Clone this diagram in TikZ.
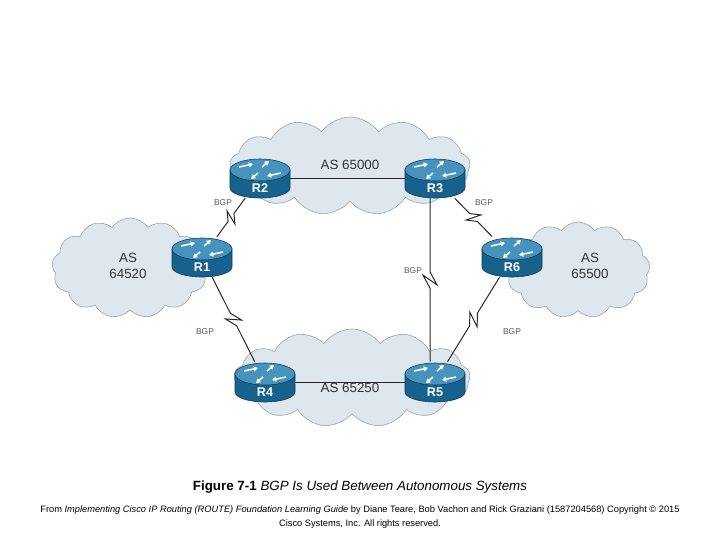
\documentclass[tikz,border=0pt]{standalone}
\usepackage{fontspec}
\setmainfont{Liberation Sans}
\usetikzlibrary{shapes.symbols,calc,arrows.meta}
\definecolor{CloudFill}{RGB}{222,230,238}
\definecolor{CloudLine}{RGB}{150,160,172}
\definecolor{RouterBody}{RGB}{22,98,140}
\definecolor{RouterTop}{RGB}{70,148,190}
\tikzset{
  as cloud/.style={shape=cloud, cloud puffs=13, cloud puff arc=110, aspect=2, draw=CloudLine, fill=CloudFill, inner sep=0pt},
  router/.style={shape=rectangle, minimum width=1.5cm, minimum height=1cm, inner sep=0pt},
  rname/.style={text=white, font=\bfseries\fontsize{9}{9}\selectfont},
  bgp/.style={text=black!65, font=\fontsize{6}{6}\selectfont},
  aslabel/.style={text=black!80, font=\fontsize{9.5}{11}\selectfont, align=center},
  link/.style={draw=black!85, line width=0.7pt},
  flow/.style={white, line width=1.1pt, -{Triangle[length=3pt,width=3.5pt]}}
}
\newcommand{\serial}[2]{%
  \draw[link] (#1) -- ($(#1)!0.45!(#2)$) -- ($(#1)!0.53!(#2)!5pt!90:(#2)$)
    -- ($(#1)!0.47!(#2)!5pt!-90:(#2)$) -- ($(#1)!0.55!(#2)$) -- (#2);}
\begin{document}
\begin{tikzpicture}[x=0.025cm,y=-0.025cm]
\useasboundingbox (0,0) rectangle (720,540);
% clouds
\node[as cloud, minimum width=6cm, minimum height=2.45cm] (as65000) at (350,166) {};
\node[as cloud, minimum width=3.9cm, minimum height=2.5cm] (as64520) at (130,268) {};
\node[as cloud, minimum width=3.6cm, minimum height=2.4cm] (as65500) at (578,270) {};
\node[as cloud, minimum width=5.9cm, minimum height=2.45cm] (as65250) at (352,378) {};
\node[aslabel] (t65000) at (350,165) {AS 65000};
\node[aslabel] (t64520) at (128,266) {AS\\64520};
\node[aslabel] (t65500) at (590,266) {AS\\65500};
\node[aslabel] (t65250) at (350,388) {AS 65250};
% routers
\node[router] (r2) at (260,178) {};
\node[router] (r3) at (435,178) {};
\node[router] (r1) at (202,257) {};
\node[router] (r6) at (512,257) {};
\node[router] (r4) at (265,382) {};
\node[router] (r5) at (435,382) {};
\coordinate (r3s) at ($(r3.south)+(-5,0)$);
\coordinate (r5n) at ($(r5.north)+(-5,0)$);
% links
\draw[link] (r2) -- (r3);
\draw[link] (r4) -- (r5);
\serial{r1}{r2}
\serial{r3}{r6}
\serial{r1}{r4}
\serial{r6}{r5}
\serial{r3s}{r5n}
% router bodies
\foreach \r/\t in {r1/R1,r2/R2,r3/R3,r4/R4,r5/R5,r6/R6}{
  \filldraw[fill=RouterBody, draw=RouterBody!60!black] ($(\r)+(-30,-8)$) -- ($(\r)+(-30,10)$) arc (180:0:30 and 10) -- ($(\r)+(30,-8)$) -- cycle;
  \filldraw[fill=RouterTop, draw=RouterBody!60!black] ($(\r)+(0,-8)$) ellipse (30 and 11);
  \node[rname] at ($(\r)+(0,10)$) {\t};
  \draw[flow] ($(\r)+(-21,-11)$) -- ($(\r)+(-7,-14)$);
  \draw[flow] ($(\r)+(21,-5)$) -- ($(\r)+(7,-2)$);
  \draw[flow] ($(\r)+(2,-11)$) -- ($(\r)+(9,-17)$);
  \draw[flow] ($(\r)+(-2,-5)$) -- ($(\r)+(-9,1)$);
}
\node[bgp] (b12) at (223,203) {BGP};
\node[bgp] (b36) at (484,203) {BGP};
\node[bgp] (b35) at (413,271) {BGP};
\node[bgp] (b14) at (205,332) {BGP};
\node[bgp] (b65) at (512,332) {BGP};
% caption
\node[font=\fontsize{9.5}{11}\selectfont] (cap) at (360,487) {\textbf{Figure 7-1} \textit{BGP Is Used Between Autonomous Systems}};
\node[font=\fontsize{6.6}{9.5}\selectfont, align=center] (src) at (360,517) {From \textit{Implementing Cisco IP Routing (ROUTE) Foundation Learning Guide} by Diane Teare, Bob Vachon and Rick Graziani (1587204568) Copyright © 2015\\Cisco Systems, Inc. All rights reserved.};
\end{tikzpicture}
\end{document}
